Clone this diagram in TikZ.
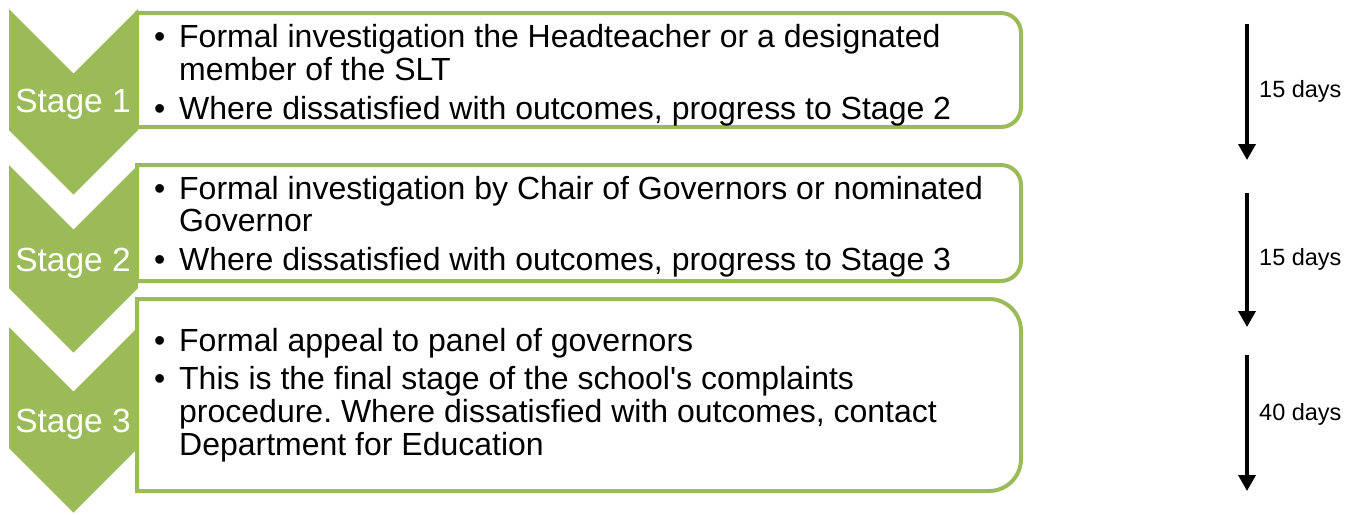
\documentclass[tikz,border=0pt]{standalone}
\usepackage{fontspec}
\setmainfont{Liberation Sans}
\usetikzlibrary{arrows.meta}
\definecolor{sgreen}{HTML}{9BBB59}
\frenchspacing
\begin{document}
\begin{tikzpicture}[x=1pt,y=-1pt,
  chev/.style={fill=sgreen, draw=none},
  stagebox/.style={draw=sgreen, line width=4pt, fill=white},
  stagelabel/.style={text=white, font=\fontsize{33.5}{38}\selectfont, inner sep=0pt, anchor=base},
  boxtext/.style={inner sep=0pt, anchor=base west},
  dayarrow/.style={line width=3.5pt, -{Triangle[width=17pt,length=16pt]}},
  daylabel/.style={font=\fontsize{23.5}{28}\selectfont, inner sep=0pt, anchor=base west}]
\useasboundingbox (0,0) rectangle (1354,514);
% boxes
\draw[stagebox] (137,13) -- (1001,13) .. controls (1012,13) and (1021,22) .. (1021,33) -- (1021,107) .. controls (1021,118) and (1012,127) .. (1001,127) -- (137,127) -- cycle;
\draw[stagebox] (137,165) -- (1001,165) .. controls (1012,165) and (1021,174) .. (1021,185) -- (1021,261) .. controls (1021,272) and (1012,281) .. (1001,281) -- (137,281) -- cycle;
\draw[stagebox] (137,299) -- (989,299) .. controls (1006.7,299) and (1021,313.3) .. (1021,331) -- (1021,459) .. controls (1021,476.7) and (1006.7,491) .. (989,491) -- (137,491) -- cycle;
% chevrons
\fill[chev] (9,9) -- (73.5,73.5) -- (138,9) -- (138,130) -- (73.5,194.5) -- (9,130) -- cycle;
\fill[chev] (9,165) -- (73.5,229.5) -- (138,165) -- (138,288) -- (73.5,352.5) -- (9,288) -- cycle;
\fill[chev] (9,327) -- (73.5,391.5) -- (138,327) -- (138,448) -- (73.5,512.5) -- (9,448) -- cycle;
\node[stagelabel] (s1) at (73,112) {Stage 1};
\node[stagelabel] (s2) at (73,271) {Stage 2};
\node[stagelabel] (s3) at (73,432) {Stage 3};
% texts
\node[boxtext, font=\fontsize{32}{30.5}\selectfont] (t1) at (154,47.7) {\begin{tabular}[t]{@{}p{25pt}@{}l@{}}
\textbullet & Formal investigation the Headteacher or a designated\\
 & member of the SLT\\[7pt]
\textbullet & Where dissatisfied with outcomes, progress to Stage 2
\end{tabular}};
\node[boxtext, font=\fontsize{32}{30.5}\selectfont] (t2) at (154,199.7) {\begin{tabular}[t]{@{}p{25pt}@{}l@{}}
\textbullet & Formal investigation by Chair of Governors or nominated\\
 & Governor\\[7pt]
\textbullet & Where dissatisfied with outcomes, progress to Stage 3
\end{tabular}};
\node[boxtext, font=\fontsize{32}{33}\selectfont] (t3) at (154,351.7) {\begin{tabular}[t]{@{}p{25pt}@{}l@{}}
\textbullet & Formal appeal to panel of governors\\[5pt]
\textbullet & This is the final stage of the school\textquotesingle s complaints\\
 & procedure. Where dissatisfied with outcomes, contact\\
 & Department for Education
\end{tabular}};
% arrows
\coordinate (a1s) at (1247,24);
\coordinate (a1e) at (1247,160);
\coordinate (a2s) at (1247,193);
\coordinate (a2e) at (1247,327);
\coordinate (a3s) at (1247,355);
\coordinate (a3e) at (1247,491);
\draw[dayarrow] (a1s) -- (a1e);
\draw[dayarrow] (a2s) -- (a2e);
\draw[dayarrow] (a3s) -- (a3e);
\node[daylabel] (d1) at (1259,97.7) {15 days};
\node[daylabel] (d2) at (1259,265.7) {15 days};
\node[daylabel] (d3) at (1259,420.7) {40 days};
\end{tikzpicture}
\end{document}
